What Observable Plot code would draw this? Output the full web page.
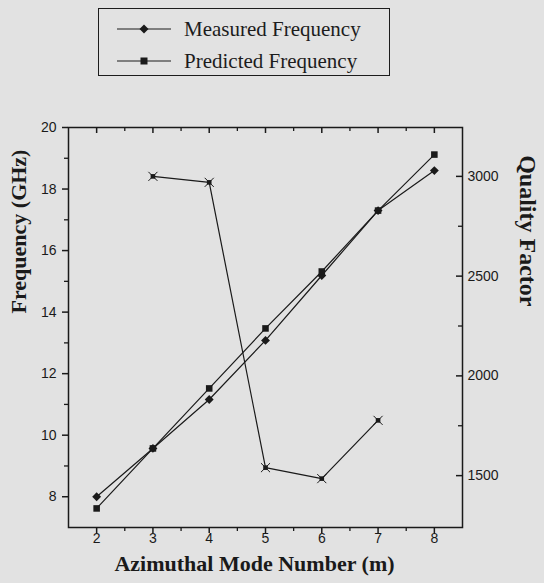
<!DOCTYPE html>
<html><head><meta charset="utf-8">
<script src="https://cdn.jsdelivr.net/npm/d3@7"></script>
<script src="https://cdn.jsdelivr.net/npm/@observablehq/plot@0.6"></script>
<style>
html,body{margin:0;padding:0;background:#e2e2e2;}
#wrap{position:relative;width:544px;height:583px;overflow:hidden;}
#legend{position:absolute;left:98px;top:8px;width:292px;height:68px;border:1.5px solid #1c1c1c;box-sizing:border-box;font-family:"Liberation Serif",serif;font-size:21px;color:#1c1c1c;}
.row{position:absolute;left:18px;height:26px;display:flex;align-items:center;white-space:nowrap;}
.row svg{margin-right:13px;}
</style></head><body><div id="wrap"><div id="chart"></div><div id="legend"></div></div>
<script>
// ---- data ----
const modes = [2, 3, 4, 5, 6, 7, 8];
const measuredGHz = [8.0, 9.57, 11.16, 13.08, 15.19, 17.3, 18.6];
const predictedGHz = [7.62, 9.57, 11.52, 13.47, 15.32, 17.3, 19.12];
const qModes = [3, 4, 5, 6, 7];
const qualityFactor = [3000, 2970, 1540, 1485, 1777];
const freqTicks = [8, 10, 12, 14, 16, 18, 20];
const freqMinor = [9, 11, 13, 15, 17, 19];
const modeMinor = [2.5, 3.5, 4.5, 5.5, 6.5, 7.5];
const qTicks = [1500, 2000, 2500, 3000];
const qMinor = [1750, 2250, 2750];
const seriesNames = ["Measured Frequency", "Predicted Frequency"];

// ---- scales ----
const yDom = [7, 20], qDom = [1240, 3245];
const qToY = q => yDom[0] + (q - qDom[0]) / (qDom[1] - qDom[0]) * (yDom[1] - yDom[0]);
const yToQ = y => qDom[0] + (y - yDom[0]) / (yDom[1] - yDom[0]) * (qDom[1] - qDom[0]);

const measured = modes.map((m, i) => ({m, f: measuredGHz[i]}));
const predicted = modes.map((m, i) => ({m, f: predictedGHz[i]}));
const quality = qModes.map((m, i) => ({m, q: qualityFactor[i]}));

const ink = "#1a1a1a";
const sans = "'Liberation Sans', Arial, sans-serif";
const serif = "'Liberation Serif', 'Times New Roman', serif";

const W = 544, H = 583, mL = 68, mR = 82, mT = 127, mB = 56;
const fw = W - mL - mR, fh = H - mT - mB;

const plot = Plot.plot({
  width: W, height: H,
  marginLeft: mL, marginRight: mR, marginTop: mT, marginBottom: mB,
  style: {background: "transparent", color: ink, fontFamily: sans},
  x: {domain: [1.5, 8.5]},
  y: {domain: yDom},
  marks: [
    // tick marks (bottom/left outward, top/right inward)
    Plot.ruleX(modes, {insetTop: fh, insetBottom: -6, stroke: ink, strokeWidth: 1.5}),
    Plot.ruleX(modeMinor, {insetTop: fh, insetBottom: -4, stroke: ink, strokeWidth: 1.3}),
    Plot.ruleX(modes, {insetTop: 0, insetBottom: fh - 6, stroke: ink, strokeWidth: 1.5}),
    Plot.ruleX(modeMinor, {insetTop: 0, insetBottom: fh - 4, stroke: ink, strokeWidth: 1.3}),
    Plot.ruleY(freqTicks, {insetLeft: -6, insetRight: fw, stroke: ink, strokeWidth: 1.5}),
    Plot.ruleY(freqMinor, {insetLeft: -4, insetRight: fw, stroke: ink, strokeWidth: 1.3}),
    Plot.ruleY(qTicks, {y: qToY, insetLeft: fw - 6, insetRight: 0, stroke: ink, strokeWidth: 1.5}),
    Plot.ruleY(qMinor, {y: qToY, insetLeft: fw - 4, insetRight: 0, stroke: ink, strokeWidth: 1.3}),
    Plot.frame({stroke: ink, strokeWidth: 1.5}),
    // tick labels
    Plot.axisX({anchor: "bottom", ticks: modes, tickSize: 0, tickPadding: 6, tickFormat: d => String(d), label: null, fontSize: 14}),
    Plot.axisY({anchor: "left", ticks: freqTicks, tickSize: 0, tickPadding: 12, tickFormat: d => String(d), label: null, fontSize: 14}),
    Plot.axisY({anchor: "right", ticks: qTicks.map(qToY), tickSize: 0, tickPadding: 5, tickFormat: y => String(Math.round(yToQ(y) / 50) * 50), label: null, fontSize: 14}),
    // axis titles
    Plot.text(["Frequency (GHz)"], {frameAnchor: "left", dx: -50, dy: -14, rotate: -90, fontFamily: serif, fontWeight: "bold", fontSize: 22, fill: ink}),
    Plot.text(["Quality Factor"], {frameAnchor: "right", dx: 65, dy: -21, rotate: 90, fontFamily: serif, fontWeight: "bold", fontSize: 24, fill: ink}),
    Plot.text(["Azimuthal Mode Number (m)"], {frameAnchor: "bottom", dx: -11, dy: 43, fontFamily: serif, fontWeight: "bold", fontSize: 22, fill: ink}),
    // series
    Plot.line(measured, {x: "m", y: "f", stroke: ink, strokeWidth: 1.2}),
    Plot.line(predicted, {x: "m", y: "f", stroke: ink, strokeWidth: 1.2}),
    Plot.line(quality, {x: "m", y: d => qToY(d.q), stroke: ink, strokeWidth: 1.2}),
    Plot.dot(measured, {x: "m", y: "f", symbol: "diamond2", r: 4, fill: ink, stroke: null}),
    Plot.dot(predicted, {x: "m", y: "f", symbol: "square", r: 3.7, fill: ink, stroke: null}),
    Plot.dot(quality, {x: "m", y: d => qToY(d.q), symbol: "square", r: 2.6, fill: ink, stroke: null}),
    Plot.dot(quality, {x: "m", y: d => qToY(d.q), symbol: "times", r: 4.2, stroke: ink, strokeWidth: 1})
  ]
});
document.getElementById("chart").appendChild(plot);

// legend
const legend = document.getElementById("legend");
const symbols = [
  '<path d="M-4.5,0L0,-4.5L4.5,0L0,4.5Z" fill="' + ink + '"/>',
  '<rect x="-3.5" y="-3.5" width="7" height="7" fill="' + ink + '"/>'
];
seriesNames.forEach((name, i) => {
  const row = document.createElement("div");
  row.className = "row";
  row.style.top = (i === 0 ? 7 : 39) + "px";
  row.innerHTML = '<svg width="54" height="14" viewBox="0 -7 54 14"><line x1="0" x2="54" y1="0" y2="0" stroke="' + ink + '" stroke-width="1.2"/><g transform="translate(27,0)">' + symbols[i] + '</g></svg><span>' + name + '</span>';
  legend.appendChild(row);
});
</script>
</body></html>
